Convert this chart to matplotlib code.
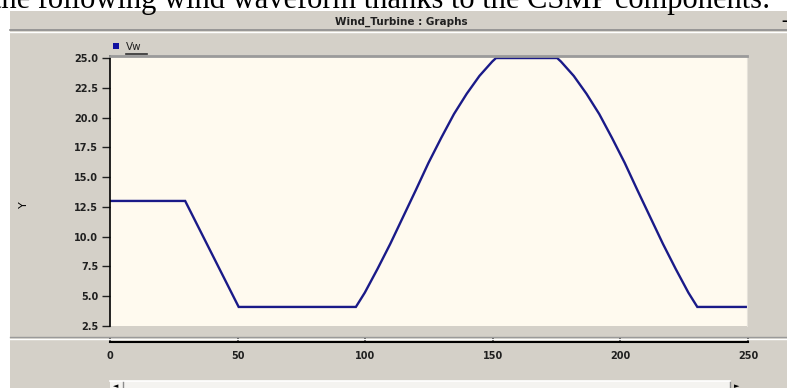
import matplotlib.pyplot as plt
from matplotlib.patches import Rectangle
from matplotlib.lines import Line2D

# wind speed Vw
time = [0, 29.5, 50.5, 96.5, 100, 105, 110, 115, 120, 125, 130, 135, 140, 145, 150, 151.5,
        175.5, 177, 182, 187, 192, 197, 202, 207, 212, 217, 222, 227, 230.5, 250]
wind = [13, 13, 4.1, 4.1, 5.3, 7.3, 9.4, 11.65, 13.9, 16.2, 18.3, 20.3, 22.0, 23.5, 24.7, 25,
        25, 24.7, 23.5, 22.0, 20.3, 18.3, 16.2, 13.9, 11.65, 9.4, 7.3, 5.3, 4.1, 4.1]
y_ticks = [2.5, 5.0, 7.5, 10.0, 12.5, 15.0, 17.5, 20.0, 22.5, 25.0]
x_ticks = [0, 50, 100, 150, 200, 250]

W, H = 787, 388
GREY = '#d4d0c8'
CREAM = '#fffaef'
NAVY = '#1a1a88'


def fx(x):
    return x / W


def fy(y):
    return 1 - y / H


fig = plt.figure(figsize=(W / 100, H / 100), dpi=100)
fig.patch.set_facecolor('white')

# page text above the screenshot (cut at the top)
fig.text(fx(-7), fy(8), "the following wind waveform thanks to the CSMP components:",
         family='Liberation Serif', fontsize=22, ha='left', va='baseline')

# window
fig.patches.append(Rectangle((fx(10), 0), 1 - fx(10), fy(11), transform=fig.transFigure,
                             facecolor=GREY, edgecolor='none', zorder=-1))
fig.lines.append(Line2D([fx(10), 1], [fy(30), fy(30)], transform=fig.transFigure,
                        color='#8c8c8c', lw=1.2))
fig.lines.append(Line2D([fx(10), 1], [fy(32), fy(32)], transform=fig.transFigure,
                        color='white', lw=1.0))
fig.text(fx(401), fy(22), "Wind_Turbine : Graphs", fontsize=7.5, ha='center', va='center',
         color='#202020', weight='bold')
fig.text(fx(784), fy(22), "–", fontsize=9, ha='center', va='center', weight='bold')

# legend
fig.patches.append(Rectangle((fx(113), fy(48.5)), fx(6), 6 / H, transform=fig.transFigure,
                             facecolor='#1010a0', edgecolor='none'))
fig.text(fx(126), fy(46.5), "Vw", fontsize=7.5, ha='left', va='center', color='#202020')
fig.lines.append(Line2D([fx(126), fx(147)], [fy(54), fy(54)], transform=fig.transFigure,
                        color='#303030', lw=1.2))

# y label
fig.text(fx(24), fy(205), "Y", fontsize=8, rotation=90, ha='center', va='center')

# main plot
ax = fig.add_axes([fx(110), fy(326), fx(637), (326 - 56) / H])
ax.set_facecolor(CREAM)
ax.plot(time, wind, color=NAVY, lw=1.7, solid_joinstyle='miter')
ax.set_xlim(0, 250)
ax.set_ylim(2.5, 25.17)
ax.set_yticks(y_ticks)
ax.set_yticklabels(["%.1f" % v for v in y_ticks], weight='bold')
ax.set_xticks([])
ax.tick_params(axis='y', direction='out', length=5.5, width=1, pad=3, labelsize=7,
               colors='#202020')
ax.spines['left'].set_color('black')
ax.spines['left'].set_linewidth(1.2)
ax.spines['top'].set_color('#9a9a9a')
ax.spines['top'].set_linewidth(2)
ax.spines['right'].set_color('#e6e2da')
ax.spines['bottom'].set_visible(False)

# separator above x axis
fig.lines.append(Line2D([fx(10), 1], [fy(337), fy(337)], transform=fig.transFigure,
                        color='#9a9a9a', lw=1.0))
fig.lines.append(Line2D([fx(10), 1], [fy(339), fy(339)], transform=fig.transFigure,
                        color='white', lw=1.0))

# x axis strip
axx = fig.add_axes([fx(110), fy(341.5), fx(638), 0.002])
axx.set_xlim(0, 250)
axx.set_xticks(x_ticks)
axx.set_xticklabels([str(v) for v in x_ticks], weight='bold')
axx.set_yticks([])
axx.patch.set_visible(False)
for s in ['left', 'right', 'top']:
    axx.spines[s].set_visible(False)
axx.spines['bottom'].set_linewidth(1.5)
axx.tick_params(axis='x', direction='in', length=3, width=1.2, pad=7, labelsize=7,
                colors='#202020')

# scroll bar at the bottom
fig.patches.append(Rectangle((fx(110), 0), fx(620), fy(381), transform=fig.transFigure,
                             facecolor='#f4f3f0', edgecolor='none'))
fig.lines.append(Line2D([fx(110), fx(730)], [fy(381), fy(381)], transform=fig.transFigure,
                        color='white', lw=1.2))
fig.lines.append(Line2D([fx(123), fx(123)], [fy(382), 0], transform=fig.transFigure,
                        color='#8c8c8c', lw=1))
fig.lines.append(Line2D([fx(730), fx(730)], [fy(382), 0], transform=fig.transFigure,
                        color='#8c8c8c', lw=1))
fig.text(fx(116), fy(386), "◄", fontsize=5, ha='center', va='center')
fig.text(fx(737), fy(386), "►", fontsize=5, ha='center', va='center')

fig.savefig("out.png", dpi=100, facecolor=fig.get_facecolor())
